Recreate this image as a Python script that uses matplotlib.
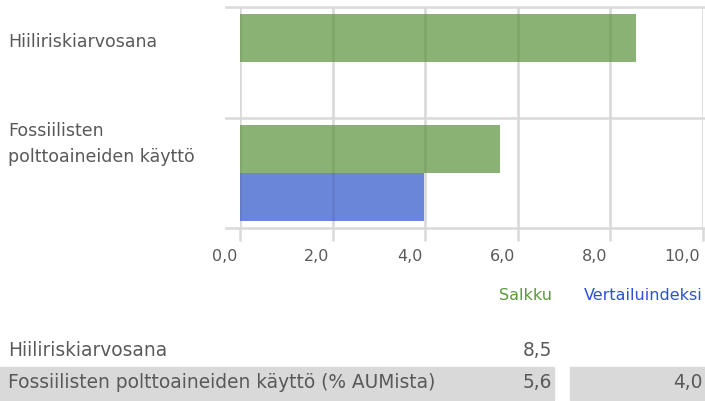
import matplotlib
matplotlib.use("Agg")
import matplotlib.pyplot as plt
from matplotlib.patches import Rectangle
from matplotlib.transforms import ScaledTranslation

# data
categories = ["Hiiliriskiarvosana", "Fossiilisten\npolttoaineiden käyttö"]
salkku = [8.55, 5.62]
vertailu = [None, 3.98]
ticks = [0, 2, 4, 6, 8, 10]
table_rows = ["Hiiliriskiarvosana", "Fossiilisten polttoaineiden käyttö (% AUMista)"]
table_salkku = ["8,5", "5,6"]
table_vertailu = ["", "4,0"]

green = "#8ab274"
blue = "#6a86d9"
grid = "#d9d9d9"
txt = "#595959"

W, H = 705, 401
plt.rcParams["font.family"] = ["DejaVu Sans"]
fig = plt.figure(figsize=(W / 100, H / 100), dpi=100)
ax = fig.add_axes([240 / W, 1 - 228 / H, 463 / W, 221 / H])

bh = 0.435
off = 0.2175
for i, (s, v) in enumerate(zip(salkku, vertailu)):
    c = i + 0.5
    ax.barh(c - off, s, height=bh, color=green, zorder=1)
    if v is not None:
        ax.barh(c + off, v, height=bh, color=blue, zorder=1)

ax.set_xlim(0, 10)
ax.set_ylim(2, 0)
ax.set_xticks(ticks)
ax.set_xticklabels([f"{t:.1f}".replace(".", ",") for t in ticks], fontsize=11.5, color=txt)
ax.set_yticks([])
ax.tick_params(axis="x", length=9, width=1.8, color=grid, pad=6)
shift = ScaledTranslation(-3 / 100, 0, fig.dpi_scale_trans)
for lab in ax.get_xticklabels():
    lab.set_horizontalalignment("right")
    lab.set_transform(lab.get_transform() + shift)
# light base line + faint dark overlay so lines show a little through the bars
for t in ticks:
    ax.axvline(t, color="#e9e9e9", lw=1.8, zorder=0)
    ax.axvline(t, color="black", alpha=0.07, lw=1.8, zorder=2)
for y in [0, 1, 2]:
    ax.plot([-0.3, 10.05], [y, y], color=grid, lw=1.8, clip_on=False, zorder=2)
for sp in ax.spines.values():
    sp.set_visible(False)

# category labels
fig.text(8 / W, 1 - 42 / H, categories[0], fontsize=12.5, color=txt, va="center", ha="left")
fig.text(8 / W, 1 - 144 / H, categories[1], fontsize=12.5, color=txt, va="center", ha="left",
         linespacing=1.6)

# legend texts
fig.text(552 / W, 1 - 295 / H, "Salkku", fontsize=11.5, color="#5b9a3c", ha="right", va="center")
fig.text(703 / W, 1 - 295 / H, "Vertailuindeksi", fontsize=11.5, color="#2c52d8", ha="right", va="center")

# table below
fig.patches.append(Rectangle((0, 1 - 400 / H), 554 / W, 33 / H, transform=fig.transFigure,
                             color=grid, zorder=0))
fig.patches.append(Rectangle((570 / W, 1 - 400 / H), 135 / W, 33 / H, transform=fig.transFigure,
                             color=grid, zorder=0))
row_y = [350, 383]
for name, s, v, y in zip(table_rows, table_salkku, table_vertailu, row_y):
    fig.text(8 / W, 1 - y / H, name, fontsize=13.4, color=txt, va="center", ha="left")
    fig.text(552 / W, 1 - y / H, s, fontsize=13.4, color=txt, va="center", ha="right")
    if v:
        fig.text(703 / W, 1 - y / H, v, fontsize=13.4, color=txt, va="center", ha="right")

fig.savefig("out.png", dpi=100)
